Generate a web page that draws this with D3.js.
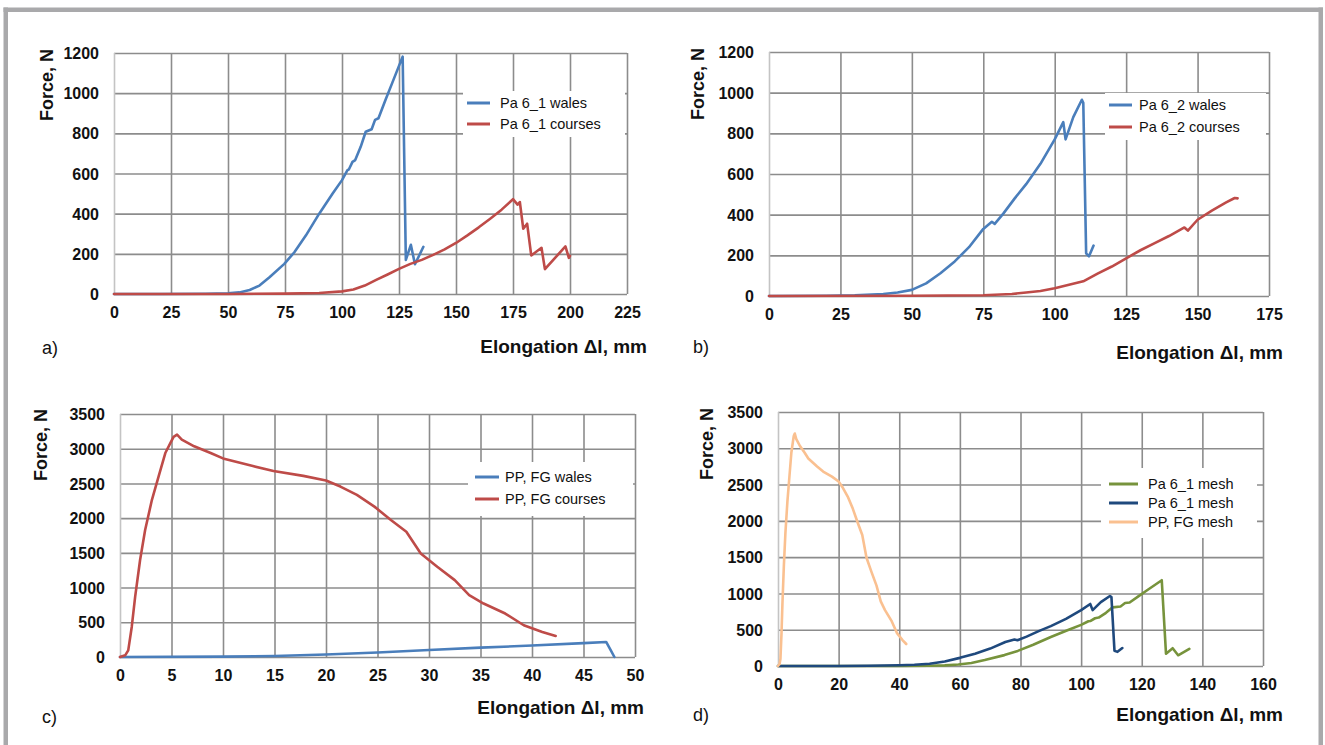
<!DOCTYPE html>
<html><head><meta charset="utf-8">
<script src="https://cdn.jsdelivr.net/npm/d3@7/dist/d3.min.js"></script>
<style>
body{margin:0;background:#fff}
svg{display:block}
text{font-family:"Liberation Sans",Arial,Helvetica,sans-serif;fill:#111}
</style>
</head><body>
<svg id="chart" width="1325" height="745"></svg>
<script>
// ---------- DATA ----------
const pa61Wales = [[0,0],[20,0],[40,1],[50,3],[55,8],[59.5,20],[63.8,42],[68.2,83],[74.7,150],[79.1,208],[84.2,292],[90,400],[95.9,500],[100,567],[102.4,617],[103,620],[104.6,658],[105.8,667],[108.2,733],[110.4,808],[113,820],[114.5,867],[116,875],[119.1,967],[122,1050],[126.6,1182],[128,170],[130.2,245],[132,148],[135.7,235]];
const pa61Courses = [[0,0],[50,0],[75,2],[90,5],[100,13],[105,22],[110,42],[115,70],[120,97],[125,125],[130,150],[135,170],[140,195],[145,222],[150,254],[155,292],[160,332],[165,375],[170,420],[175,472],[177,445],[178,458],[179.5,325],[181.2,350],[183,192],[187.5,230],[189,124],[198,237],[199.5,180],[200,190]];
const pa62Wales = [[0,0],[20,1],[30,3],[40,10],[45,17],[50,30],[55,62],[60,112],[65,170],[70,240],[75,330],[78,365],[79,355],[82,405],[86,480],[90,550],[95,650],[100,770],[103,855],[103.8,770],[106.5,880],[109.5,965],[110,950],[111,210],[112,195],[113.6,248]];
const pa62Courses = [[0,0],[50,1],[75,4],[85,10],[90,17],[95,25],[100,38],[105,55],[110,72],[115,110],[120,145],[125,185],[130,225],[135,260],[140,295],[145.4,337],[146.6,322],[150,375],[155,420],[160,460],[163,482],[164,480]];
const ppWales = [[0,0],[10,5],[15,15],[20,35],[25,65],[30,100],[35,135],[40,165],[45,200],[47.2,217],[47.6,110],[48,0]];
const ppCourses = [[0,0],[0.5,24],[0.8,96],[1.14,433],[1.47,867],[1.95,1397],[2.44,1830],[3.1,2264],[3.75,2601],[4.4,2938],[4.9,3083],[5.2,3170],[5.54,3203],[6.0,3131],[7.2,3035],[8.8,2938],[10,2860],[12.9,2750],[14.9,2680],[17.8,2609],[20,2542],[21.4,2455],[23,2335],[24.7,2166],[26.3,1974],[27.8,1805],[29.2,1492],[30.8,1300],[32.5,1107],[33.9,890],[35.3,770],[37.4,626],[39.2,457],[41,361],[42.3,303]];

const ticksX_a = [0,25,50,75,100,125,150,175,200,225];
const ticksY_ab = [0,200,400,600,800,1000,1200];
const ticksX_b = [0,25,50,75,100,125,150,175];
const ticksX_c = [0,5,10,15,20,25,30,35,40,45,50];
const ticksY_cd = [0,500,1000,1500,2000,2500,3000,3500];
const ticksX_d = [0,20,40,60,80,100,120,140,160];

const names_a = ["Pa 6_1 wales","Pa 6_1 courses"];
const names_b = ["Pa 6_2 wales","Pa 6_2 courses"];
const names_c = ["PP, FG wales","PP, FG courses"];
const names_d = ["Pa 6_1 mesh","Pa 6_1 mesh","PP, FG mesh"];
const panelLabels = ["a)","b)","c)","d)"];
const xTitle = "Elongation \u0394l, mm";
const yTitle = "Force, N";

// ---------- COLOURS / LAYOUT ----------
const BLUE="#4a7ebb", RED="#be4b48", GREEN="#77933c", NAVY="#1f497d", PEACH="#fac090";

const panels = [
  {label:panelLabels[0], px:[114,627], py:[294,53], xt:ticksX_a, yt:ticksY_ab,
   series:[{n:names_a[0],d:pa61Wales,c:BLUE},{n:names_a[1],d:pa61Courses,c:RED}],
   leg:{bx:463,by:91,bw:162,bh:46,lx:467,lw:23,tx:500,rows:[103,124]},
   yl:{x:47,y:49}, xl:{x:647,y:346}, pl:{x:42,y:348}},
  {label:panelLabels[1], px:[769,1269], py:[296,52], xt:ticksX_b, yt:ticksY_ab,
   series:[{n:names_b[0],d:pa62Wales,c:BLUE},{n:names_b[1],d:pa62Courses,c:RED}],
   leg:{bx:1105,by:93,bw:161,bh:47,lx:1109,lw:23,tx:1139,rows:[105,127]},
   yl:{x:698,y:48}, xl:{x:1283,y:352}, pl:{x:693,y:347}},
  {label:panelLabels[2], px:[120,635], py:[657,414], xt:ticksX_c, yt:ticksY_cd,
   series:[{n:names_c[0],d:ppWales,c:BLUE},{n:names_c[1],d:ppCourses,c:RED}],
   leg:{bx:468,by:462,bw:165,bh:54,lx:475,lw:24,tx:505,rows:[477,499]},
   yl:{x:41,y:409}, xl:{x:644,y:707}, pl:{x:42,y:717}},
  {label:panelLabels[3], px:[778,1263], py:[666,412], xt:ticksX_d, yt:ticksY_cd,
   series:[{n:names_d[0],d:pa61Wales,c:GREEN},{n:names_d[1],d:pa62Wales,c:NAVY},{n:names_d[2],d:ppCourses,c:PEACH}],
   leg:{bx:1101,by:468,bw:156,bh:70,lx:1109,lw:29,tx:1148,rows:[484,503,522]},
   yl:{x:707,y:408}, xl:{x:1283,y:714}, pl:{x:693,y:715}}
];

const svg = d3.select("#chart");
svg.append("rect").attr("x",0).attr("y",0).attr("width",1325).attr("height",745).attr("fill","#fff");
// outer frame (top, left, right)
const frame="#a9a9ab";
svg.append("rect").attr("x",3.5).attr("y",7.5).attr("width",1319.5).attr("height",4.5).attr("fill",frame);
svg.append("rect").attr("x",3.5).attr("y",7.5).attr("width",4.5).attr("height",745).attr("fill",frame);
svg.append("rect").attr("x",1318.5).attr("y",7.5).attr("width",4.5).attr("height",745).attr("fill",frame);

panels.forEach(p=>{
  const g = svg.append("g");
  const xs = d3.scaleLinear().domain([p.xt[0], p.xt[p.xt.length-1]]).range(p.px);
  const ys = d3.scaleLinear().domain([p.yt[0], p.yt[p.yt.length-1]]).range(p.py);
  const grid = "#8c8c8c";
  // horizontal grid
  g.append("g").attr("transform",`translate(${p.px[0]},0)`)
   .call(d3.axisLeft(ys).tickValues(p.yt).tickSize(-(p.px[1]-p.px[0])).tickFormat(""))
   .call(a=>{a.select(".domain").remove(); a.selectAll("line").attr("stroke",grid).attr("stroke-width",1.6);});
  // vertical grid
  g.append("g").attr("transform",`translate(0,${p.py[0]})`)
   .call(d3.axisBottom(xs).tickValues(p.xt).tickSize(-(p.py[0]-p.py[1])).tickFormat(""))
   .call(a=>{a.select(".domain").remove(); a.selectAll("line").attr("stroke",(d,i)=>i===0?"#c4c4c4":grid).attr("stroke-width",1.6);});
  // tick labels
  g.append("g").attr("transform",`translate(${p.px[0]-15},0)`)
   .call(d3.axisLeft(ys).tickValues(p.yt).tickSize(0).tickPadding(0).tickFormat(d3.format("d")))
   .call(a=>{a.select(".domain").remove(); a.selectAll("text").attr("font-size",16).attr("font-weight","bold").attr("fill","#111").attr("dy","0.35em").style("font-family",'"Liberation Sans",Arial,sans-serif');});
  g.append("g").attr("transform",`translate(0,${p.py[0]+13})`)
   .call(d3.axisBottom(xs).tickValues(p.xt).tickSize(0).tickPadding(0).tickFormat(d3.format("d")))
   .call(a=>{a.select(".domain").remove(); a.selectAll("text").attr("font-size",16).attr("font-weight","bold").attr("fill","#111").style("font-family",'"Liberation Sans",Arial,sans-serif');});
  // lines
  const line = d3.line().x(d=>xs(d[0])).y(d=>ys(d[1]));
  p.series.forEach(s=>{
    g.append("path").datum(s.d).attr("d",line).attr("fill","none").attr("stroke",s.c)
     .attr("stroke-width",2.6).attr("stroke-linejoin","round").attr("stroke-linecap","round");
  });
  // legend
  const L = p.leg;
  g.append("rect").attr("x",L.bx).attr("y",L.by).attr("width",L.bw).attr("height",L.bh).attr("fill","#fff");
  p.series.forEach((s,i)=>{
    g.append("line").attr("x1",L.lx).attr("x2",L.lx+L.lw).attr("y1",L.rows[i]).attr("y2",L.rows[i])
     .attr("stroke",s.c).attr("stroke-width",3);
    g.append("text").attr("x",L.tx).attr("y",L.rows[i]).attr("dy","0.36em").attr("font-size",14.5).text(s.n);
  });
  // axis titles
  g.append("text").attr("transform",`translate(${p.yl.x},${p.yl.y}) rotate(-90)`)
   .attr("text-anchor","end").attr("dy","0.36em").attr("font-size",18).attr("font-weight","bold").text(yTitle);
  g.append("text").attr("x",p.xl.x).attr("y",p.xl.y).attr("dy","0.36em").attr("text-anchor","end")
   .attr("font-size",19).attr("font-weight","bold").text(xTitle);
  g.append("text").attr("x",p.pl.x).attr("y",p.pl.y).attr("dy","0.36em").attr("font-size",18).text(p.label);
});
</script>
</body></html>
